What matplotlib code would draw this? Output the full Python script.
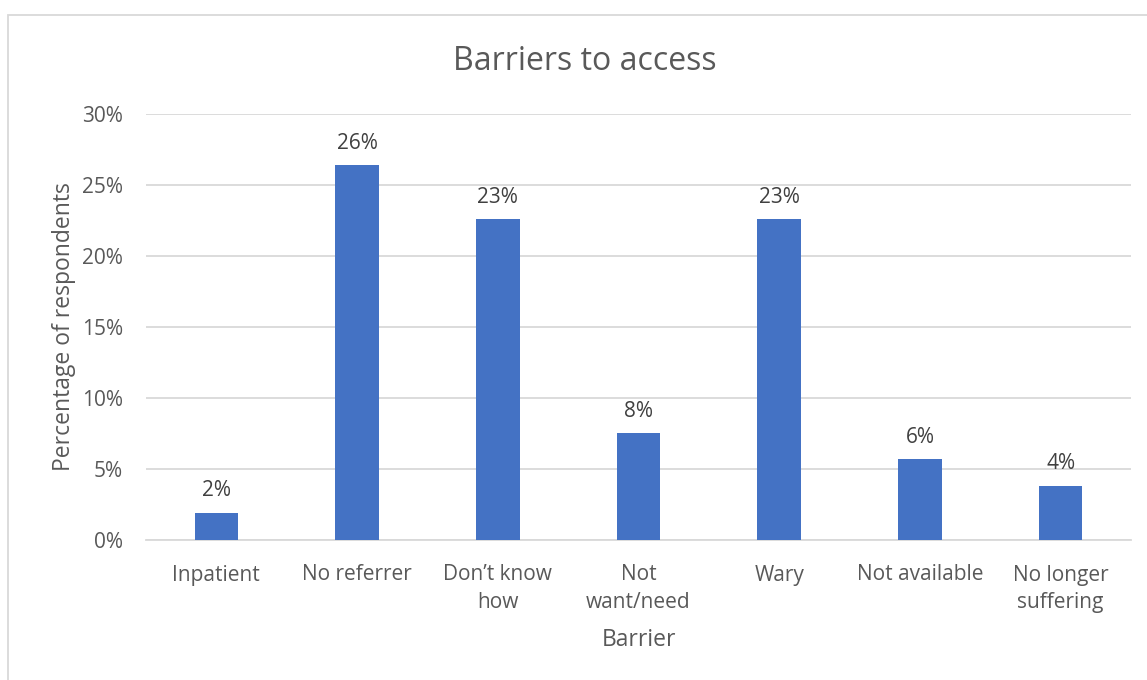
import matplotlib
matplotlib.use("Agg")
import matplotlib.pyplot as plt
from matplotlib.patches import Rectangle
from matplotlib.ticker import PercentFormatter

plt.rcParams["font.family"] = ["Open Sans", "DejaVu Sans"]

categories = ["Inpatient", "No referrer", "Don\u2019t know\nhow", "Not\nwant/need",
              "Wary", "Not available", "No longer\nsuffering"]
shares = [0.019, 0.264, 0.226, 0.075, 0.226, 0.057, 0.038]
bar_labels = ["2%", "26%", "23%", "8%", "23%", "6%", "4%"]
y_ticks = [0.0, 0.05, 0.10, 0.15, 0.20, 0.25, 0.30]

TEXT = "#595959"
BAR = "#4472C4"
GRID = "#D9D9D9"

fig = plt.figure(figsize=(11.47, 6.8), dpi=100)
ax = fig.add_axes([146 / 1147, 1 - 539.5 / 680, 985 / 1147, 425.5 / 680])

x = range(len(categories))
bars = ax.bar(x, shares, width=0.31, color=BAR, zorder=3)
for rect, lab in zip(bars, bar_labels):
    ax.annotate(lab, (rect.get_x() + rect.get_width() / 2, rect.get_height()),
                xytext=(0, 8), textcoords="offset points", ha="center",
                va="bottom", fontsize=15, color="#404040")

ax.set_xlim(-0.5, len(categories) - 0.5)
ax.set_ylim(0, 0.30)
ax.set_yticks(y_ticks)
ax.yaxis.set_major_formatter(PercentFormatter(1.0, decimals=0))
ax.set_xticks(list(x))
ax.set_xticklabels(categories, linespacing=1.4)
ax.tick_params(axis="both", length=0, labelsize=15, colors=TEXT)
ax.tick_params(axis="x", pad=18)
ax.tick_params(axis="y", pad=16.5)
ax.grid(axis="y", color=GRID, linewidth=1.3, zorder=0)
for side in ["top", "right", "left"]:
    ax.spines[side].set_visible(False)
ax.spines["bottom"].set_color(GRID)
ax.spines["bottom"].set_linewidth(1.3)

ax.set_ylabel("Percentage of respondents", fontsize=16.5, color=TEXT, labelpad=4.5)
ax.set_xlabel("Barrier", fontsize=16.5, color=TEXT, labelpad=11)
fig.text(585 / 1147, 1 - 62 / 680, "Barriers to access", ha="center",
         va="center", fontsize=23, color=TEXT)

fig.patches.append(Rectangle((8 / 1147, -0.1), 1.2, 1 - 15 / 680 + 0.1,
                             transform=fig.transFigure, fill=False,
                             edgecolor=GRID, linewidth=1.3))

fig.savefig("out.png", dpi=100, facecolor="white")
